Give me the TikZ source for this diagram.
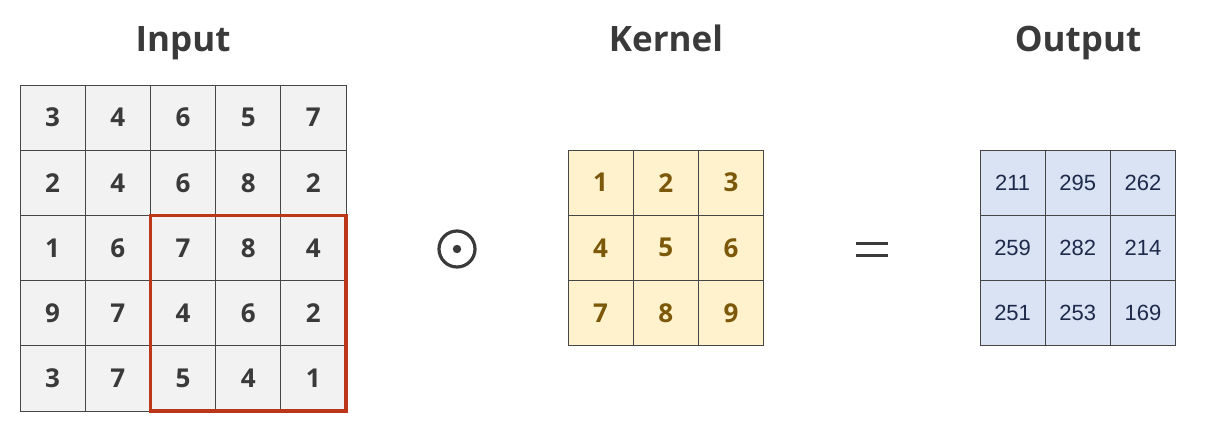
\documentclass[tikz,border=0pt]{standalone}
\usepackage{fontspec}
\setmainfont{Open Sans}
\newfontfamily\numfont{Liberation Sans}
\usetikzlibrary{positioning}
\definecolor{txtgray}{RGB}{58,58,58}
\definecolor{gridline}{RGB}{70,70,70}
\definecolor{infill}{RGB}{242,242,242}
\definecolor{kerfill}{RGB}{255,242,204}
\definecolor{kertxt}{RGB}{124,88,10}
\definecolor{outfill}{RGB}{218,227,243}
\definecolor{outtxt}{RGB}{30,42,75}
\definecolor{winred}{RGB}{188,54,26}
\tikzset{
    cell/.style={draw=gridline, line width=0.9pt, minimum size=65.2pt,
        inner sep=0pt, outer sep=0pt},
    incell/.style={cell, fill=infill, text=txtgray,
        font=\fontsize{26}{30}\selectfont\bfseries},
    kercell/.style={cell, fill=kerfill, text=kertxt,
        font=\fontsize{26}{30}\selectfont\bfseries},
    outcell/.style={cell, fill=outfill, text=outtxt,
        font=\numfont\fontsize{22}{26}\selectfont},
    title/.style={anchor=base, text=txtgray,
        font=\fontsize{35}{40}\selectfont\bfseries},
}

\begin{document}
\begin{tikzpicture}[x=1pt, y=-1pt]
    \useasboundingbox (0,0) rectangle (1232,440);

    % --- Titles ---
    \node[title] (tin)  at (183,51)  {Input};
    \node[title] (tker) at (666,51)  {Kernel};
    \node[title] (tout) at (1078,51) {Output};

    % --- Input grid ---
    \foreach \row [count=\r] in {{3,4,6,5,7},{2,4,6,8,2},{1,6,7,8,4},{9,7,4,6,2},{3,7,5,4,1}}
        \foreach \v [count=\c] in \row
            \node[incell] (in-\r-\c) at ({20+65.2*(\c-0.5)},{85+65.2*(\r-0.5)}) {\v};

    % window under the kernel
    \draw[winred, line width=3.6pt] (in-3-3.north west) rectangle (in-5-5.south east);

    % --- Kernel grid ---
    \foreach \row [count=\r] in {{1,2,3},{4,5,6},{7,8,9}}
        \foreach \v [count=\c] in \row
            \node[kercell] (ker-\r-\c) at ({568+65.2*(\c-0.5)},{150+65.2*(\r-0.5)}) {\v};

    % --- Output grid ---
    \foreach \row [count=\r] in {{211,295,262},{259,282,214},{251,253,169}}
        \foreach \v [count=\c] in \row
            \node[outcell] (out-\r-\c) at ({980+65.2*(\c-0.5)},{150+65.2*(\r-0.5)}) {\v};

    % --- Operators ---
    \node[circle, draw=txtgray, line width=3.2pt, minimum size=36pt, inner sep=0pt] (odot) at (457,249) {};
    \fill[txtgray] (odot.center) circle (4.2);

    \coordinate (eqa) at (856,243.5);
    \coordinate (eqb) at (888,243.5);
    \coordinate (eqc) at (856,255.5);
    \coordinate (eqd) at (888,255.5);
    \draw[txtgray, line width=3.2pt] (eqa) -- (eqb) (eqc) -- (eqd);

\end{tikzpicture}
\end{document}
